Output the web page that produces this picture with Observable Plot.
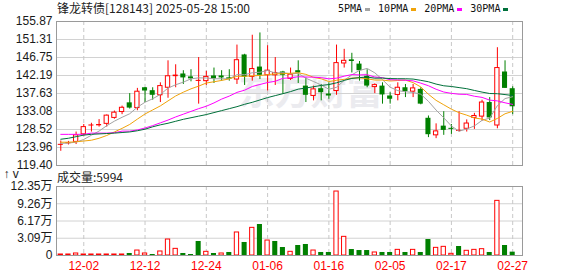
<!DOCTYPE html>
<html><head><meta charset="utf-8">
<script src="https://cdn.jsdelivr.net/npm/d3@7"></script>
<script src="https://cdn.jsdelivr.net/npm/@observablehq/plot@0.6"></script>
<style>
body{margin:0;background:#fff;}
#wrap{position:relative;width:578px;height:276px;overflow:hidden;background:#fff;}
#wrap svg{position:absolute;left:0;overflow:visible;}
.t{position:absolute;white-space:nowrap;color:#1a1a1a;}
#legend{position:absolute;left:338px;top:3px;display:flex;align-items:center;font:10px "DejaVu Sans Mono",monospace;color:#111;line-height:12px;}
#legend span.sw{display:inline-block;width:5px;height:3px;margin:0 8px 0 3px;}
</style></head><body><div id="wrap"></div>
<script>
const title = "锋龙转债[128143] 2025-05-28 15:00";
const dates = ["11-27","11-28","11-29","12-02","12-03","12-04","12-05","12-06","12-09","12-10",
"12-11","12-12","12-13","12-16","12-17","12-18","12-19","12-20","12-23","12-24",
"12-25","12-26","12-27","12-30","12-31","01-02","01-03","01-06","01-07","01-08",
"01-09","01-10","01-13","01-14","01-15","01-16","01-17","01-20","01-21","01-22",
"01-23","01-24","01-27","02-05","02-06","02-07","02-10","02-11","02-12","02-13",
"02-14","02-17","02-18","02-19","02-20","02-21","02-24","02-25","02-26","02-27"];
const tickDates = ["12-02","12-12","12-24","01-06","01-16","02-05","02-17","02-27"];
const open  = [124.5,124.9,125.38,127.29,129.4,129.45,129.95,131.45,132.94,135.27,
133.94,139.09,138.35,137.18,139.09,141.9,142.58,141.84,140.7,140.76,
142.08,142.08,141.6,141.17,147.4,141.84,144.33,142.25,142.25,143.08,
141.34,143.41,139.51,137.01,138.85,137.5,138.26,145.24,146.16,145.08,
142.0,139.26,139.51,137.01,137.27,139.09,138.1,138.68,131.36,127.04,
129.37,128.7,128.04,128.7,131.45,131.78,135.35,129.53,143.08,138.85];
const high  = [125.6,125.5,127.87,129.78,130.1,131.03,132.2,133.19,134.44,137.6,
138.93,139.17,139.09,140.34,145.91,144.91,143.41,143.66,146.74,143.25,
144.08,143.41,143.66,149.9,147.57,152.39,152.97,149.73,146.74,143.25,
144.08,145.91,141.59,139.51,139.92,140.34,149.9,148.82,147.82,145.74,
143.66,140.09,140.34,137.84,140.34,139.92,139.92,139.09,131.94,129.95,
133.02,129.78,133.02,130.95,132.61,135.93,136.6,149.23,145.91,139.34];
const low   = [123.0,124.6,124.71,126.87,127.87,129.12,129.12,131.12,132.28,133.69,
133.27,135.35,135.93,135.35,136.43,139.09,139.92,140.59,134.94,139.67,
140.17,140.76,140.76,139.92,139.67,140.76,141.17,138.26,139.67,137.43,
140.92,140.17,135.35,135.77,135.77,136.18,137.18,144.08,142.83,140.76,
139.09,137.6,134.94,134.94,135.77,136.6,136.6,134.77,126.46,126.2,
127.04,127.29,127.87,127.87,128.54,130.62,130.78,128.7,138.93,132.28];
const close = [124.6,125.2,127.04,129.12,129.45,129.78,132.03,132.78,134.02,133.94,
138.09,138.26,137.18,139.51,142.0,142.3,141.58,141.34,140.76,141.84,
141.34,141.58,141.2,146.07,141.75,143.83,142.25,143.42,142.83,142.25,
142.42,142.83,137.18,138.68,137.84,137.0,145.33,145.91,145.74,143.41,
139.51,139.76,137.27,136.18,139.09,138.1,138.93,134.94,127.2,128.04,
128.29,128.55,128.3,130.03,131.94,135.35,131.45,144.08,138.93,134.27];
const ma5  = [125.0,125.1,125.3,126.0,127.08,128.12,129.48,130.63,131.61,132.51,
134.17,135.42,136.30,137.40,139.01,139.85,140.51,141.35,141.60,141.56,
141.37,141.37,141.34,142.41,142.39,142.89,143.02,143.46,142.82,142.92,
142.63,142.75,141.50,140.67,139.79,138.71,139.21,140.95,142.36,143.48,
143.98,142.87,141.14,139.23,138.36,138.08,137.91,137.45,135.65,133.44,
131.48,129.40,128.08,128.64,129.42,130.83,131.41,134.57,136.35,136.82];
const ma10 = [125.3,125.3,125.4,125.6,125.8,126.3,127.0,127.9,128.8,129.80,
131.15,132.45,133.47,134.50,135.76,137.01,137.97,138.82,139.50,140.29,
140.61,140.94,141.35,142.00,141.98,142.13,142.20,142.40,142.61,142.65,
142.76,142.89,142.48,141.74,141.35,140.67,140.98,141.23,141.52,141.63,
141.34,141.04,141.05,140.80,140.92,141.03,140.39,139.29,137.44,135.90,
134.78,133.66,132.76,132.15,131.43,131.16,130.41,131.32,132.50,133.12];
const ma20 = [127.29,127.29,127.29,127.3,127.6,127.6,127.6,127.7,128.1,128.1,
128.4,128.9,129.5,130.2,130.9,131.7,132.4,133.1,133.8,134.41,
135.25,136.22,136.98,137.92,138.47,139.41,139.92,140.41,140.73,141.48,
141.61,141.88,141.81,141.77,141.64,141.35,141.52,142.02,142.43,142.34,
142.39,141.81,141.64,141.12,141.08,141.00,140.84,140.26,139.60,138.71,
138.01,137.67,137.45,137.40,136.94,136.65,135.96,135.76,135.28,134.87];
const ma30 = [126.05,126.3,126.7,127.1,127.3,127.4,127.5,127.6,127.75,127.9,
128.2,128.6,129.2,129.7,130.1,130.6,131.1,131.5,131.9,132.3,
132.8,133.3,133.8,134.3,134.9,135.4,136.0,136.6,137.1,137.59,
138.12,138.74,139.03,139.35,139.68,139.90,140.34,140.95,141.45,141.65,
141.80,141.52,141.54,141.42,141.38,141.37,141.29,140.97,140.61,140.02,
139.59,139.41,139.13,138.85,138.41,137.99,137.63,137.58,137.36,137.12];
// volume in 万 (10k)
const volume = [0.18,0.18,0.36,0.18,0.18,0.18,0.18,0.18,0.18,0.36,
0.89,0.36,0.18,0.72,2.86,1.19,0.36,0.18,2.51,0.66,
0.36,0.36,0.54,4.12,2.33,4.95,5.55,2.68,2.51,1.43,
0.66,1.79,1.97,0.89,0.54,0.54,11.45,3.34,1.07,0.89,
0.89,0.54,0.54,0.54,1.01,0.54,1.01,0.54,2.86,1.37,
1.55,0.30,1.61,0.84,1.01,1.13,0.54,9.78,1.79,0.5994];
const volDir = ["u","u","u","u","u","u","u","u","u","d",
"u","u","d","u","u","u","d","d","d","u",
"d","u","d","u","d","u","d","u","d","d",
"u","d","d","u","d","d","u","u","d","d",
"d","u","d","d","u","d","u","d","d","u",
"u","u","d","u","u","u","d","u","d","d"];
const priceTicks = [155.87,151.31,146.75,142.19,137.63,133.08,128.52,123.96,119.40];
const volTicks = [12.35,9.26,6.17,3.09,0];
const maNames = ["5PMA","10PMA","20PMA","30PMA"];
const maColors = ["#a3a3a3","#f0a30a","#ff00ff","#00703a"];
const RED = "#ff0000", GREEN = "#008000";

const wrap = document.getElementById("wrap");
const XD = [-0.56, 60.28];
const FONT = '"Liberation Sans", Arial, "Noto Sans CJK SC", sans-serif';
const tickIdx = tickDates.map(d => dates.indexOf(d));

const candles = dates.map((d, i) => ({i, d, o: open[i], h: high[i], l: low[i], c: close[i]}));
const upC = candles.filter(d => d.c >= d.o);
const dnC = candles.filter(d => d.c < d.o);
const hollow = upC.filter(d => d.c - d.o >= 0.45);
const thinUp = upC.filter(d => d.c - d.o < 0.45);
const maSeries = [ma5, ma10, ma20, ma30].map(a => a.map((v, i) => ({i, v})));

const main = Plot.plot({
  width: 578, height: 172, marginLeft: 56, marginRight: 56, marginTop: 21, marginBottom: 7,
  x: {domain: XD, axis: null},
  y: {domain: [priceTicks[priceTicks.length - 1], priceTicks[0]]},
  style: {background: "transparent", fontFamily: FONT, fontSize: "12px", color: "#1a1a1a"},
  marks: [
    Plot.text(["东方财富"], {x: 32.6, y: 137.6, text: d => d, fontSize: 36, fontWeight: "bold",
      fill: "#ebebef", fontFamily: '"Noto Sans CJK SC"'}),
    Plot.gridY(priceTicks.slice(1, -1), {stroke: "#d2d2d2", strokeOpacity: 1}),
    Plot.ruleX(tickIdx, {stroke: "#c8c8c8", strokeDasharray: "4,3"}),
    Plot.ruleX(upC, {x: "i", y1: "l", y2: "h", stroke: RED}),
    Plot.ruleX(dnC, {x: "i", y1: "l", y2: "h", stroke: GREEN}),
    Plot.rect(hollow, {x1: d => d.i - 0.28, x2: d => d.i + 0.28, y1: "o", y2: "c", fill: "white", stroke: RED}),
    Plot.rect(thinUp, {x1: d => d.i - 0.33, x2: d => d.i + 0.33, y1: "o", y2: d => Math.max(d.c, d.o + 0.26), fill: RED}),
    Plot.rect(dnC, {x1: d => d.i - 0.33, x2: d => d.i + 0.33, y1: "c", y2: d => Math.max(d.o, d.c + 0.26), fill: GREEN}),
    ...maSeries.map((s, k) => Plot.line(s, {x: "i", y: "v", stroke: maColors[k], strokeWidth: 1})),
    Plot.axisY(priceTicks, {tickSize: 0, tickPadding: 4, tickFormat: d => d.toFixed(2), fontSize: 12, fill: "#1a1a1a"}),
    Plot.frame({stroke: "#9a9a9a"})
  ]
});
main.style.top = "0px";
wrap.appendChild(main);

const vols = volume.map((v, i) => ({i, v, dir: volDir[i]}));
const volPlot = Plot.plot({
  width: 578, height: 110, marginLeft: 56, marginRight: 56, marginTop: 20, marginBottom: 21,
  x: {domain: XD},
  y: {domain: [0, volTicks[0]]},
  style: {background: "transparent", fontFamily: FONT, fontSize: "12px", color: "#1a1a1a"},
  marks: [
    Plot.gridY(volTicks.slice(1, -1), {stroke: "#d2d2d2", strokeOpacity: 1}),
    Plot.ruleX(tickIdx, {stroke: "#c8c8c8", strokeDasharray: "4,3"}),
    Plot.rect(vols.filter(d => d.dir === "u"), {x1: d => d.i - 0.28, x2: d => d.i + 0.28, y1: 0, y2: "v", fill: "white", stroke: RED}),
    Plot.rect(vols.filter(d => d.dir === "d"), {x1: d => d.i - 0.33, x2: d => d.i + 0.33, y1: 0, y2: "v", fill: GREEN}),
    Plot.axisY(volTicks, {tickSize: 0, tickPadding: 4, tickFormat: d => d === 0 ? "0" : d.toFixed(2) + "万", fontSize: 12, fill: "#1a1a1a"}),
    Plot.axisX(tickIdx, {tickSize: 0, tickPadding: 6, tickFormat: i => dates[i], fontSize: 12, fill: RED}),
    Plot.frame({stroke: "#9a9a9a"})
  ]
});
volPlot.style.top = "166px";
wrap.appendChild(volPlot);

function addText(txt, left, top, css) {
  const el = document.createElement("div");
  el.className = "t";
  el.textContent = txt;
  el.style.left = left + "px";
  el.style.top = top + "px";
  Object.assign(el.style, css);
  wrap.appendChild(el);
}
addText(title, 57, 1, {font: '12px "Noto Sans CJK SC", sans-serif', lineHeight: "14px", color: "#222"});
addText("成交量:" + Math.round(volume[volume.length - 1] * 10000), 57, 170, {font: '12px "Noto Sans CJK SC", sans-serif', lineHeight: "14px", color: "#222"});

const legend = document.createElement("div");
legend.id = "legend";
maNames.forEach((n, k) => {
  const s = document.createElement("span"); s.textContent = n; legend.appendChild(s);
  const sw = document.createElement("span"); sw.className = "sw"; sw.style.background = maColors[k]; legend.appendChild(sw);
});
wrap.appendChild(legend);
</script></body></html>
